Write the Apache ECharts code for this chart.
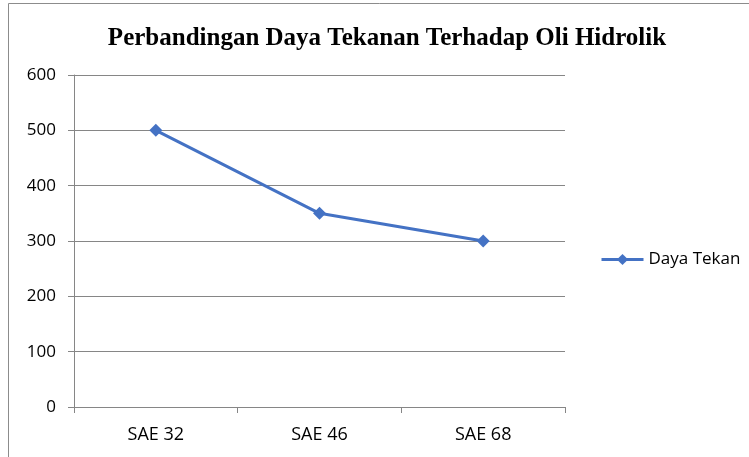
<!DOCTYPE html>
<html>
<head>
<meta charset="utf-8">
<script src="https://cdn.jsdelivr.net/npm/echarts@6/dist/echarts.min.js"></script>
<style>
  html, body { margin: 0; padding: 0; background: #fff; }
  #chart { width: 749px; height: 457px; }
</style>
</head>
<body>
<div id="chart"></div>
<script>
const categories = ['SAE 32', 'SAE 46', 'SAE 68'];
const dayaTekan = [500, 350, 300];
const yTicks = [0, 100, 200, 300, 400, 500, 600];

const chart = echarts.init(document.getElementById('chart'));
const axisGray = '#868686';
const labelFont = '"Open Sans", "Liberation Sans", sans-serif';

chart.setOption({
  animation: false,
  backgroundColor: '#fff',
  title: {
    text: 'Perbandingan Daya Tekanan Terhadap Oli Hidrolik',
    left: 382,
    top: 21,
    textAlign: 'center',
    textStyle: {
      fontFamily: '"Liberation Serif", "DejaVu Serif", serif',
      fontWeight: 'bold',
      fontSize: 25,
      color: '#000',
    },
  },
  graphic: [
    {
      type: 'polyline',
      shape: { points: [[8.5, 460], [8.5, 3.5], [760, 3.5]] },
      style: { stroke: '#8c8c8c', lineWidth: 1, fill: null },
    },
  ],
  grid: {
    left: 74,
    right: 184,
    top: 75,
    bottom: 50,
  },
  legend: {
    data: ['Daya Tekan'],
    left: 595,
    top: 246,
    itemWidth: 42,
    itemHeight: 14,
    itemGap: 5,
    lineStyle: { width: 3 },
    textStyle: {
      fontFamily: labelFont,
      fontSize: 17,
      color: '#000',
    },
  },
  xAxis: {
    type: 'category',
    data: categories,
    boundaryGap: true,
    axisLine: { lineStyle: { color: axisGray, width: 1 } },
    axisTick: { show: true, alignWithLabel: false, length: 6, lineStyle: { color: axisGray } },
    axisLabel: {
      margin: 19,
      fontFamily: labelFont,
      fontSize: 18,
      color: '#000',
    },
  },
  yAxis: {
    type: 'value',
    min: yTicks[0],
    max: yTicks[yTicks.length - 1],
    interval: 100,
    axisLine: { show: true, lineStyle: { color: axisGray, width: 1 } },
    axisTick: { show: true, length: 6, lineStyle: { color: axisGray } },
    splitLine: { show: true, lineStyle: { color: axisGray, width: 1 } },
    axisLabel: {
      margin: 18,
      fontFamily: labelFont,
      fontSize: 17,
      color: '#000',
    },
  },
  series: [
    {
      name: 'Daya Tekan',
      type: 'line',
      data: dayaTekan,
      symbol: 'diamond',
      symbolSize: 13,
      itemStyle: { color: '#4472C4' },
      lineStyle: { color: '#4472C4', width: 3 },
    },
  ],
});
</script>
</body>
</html>
